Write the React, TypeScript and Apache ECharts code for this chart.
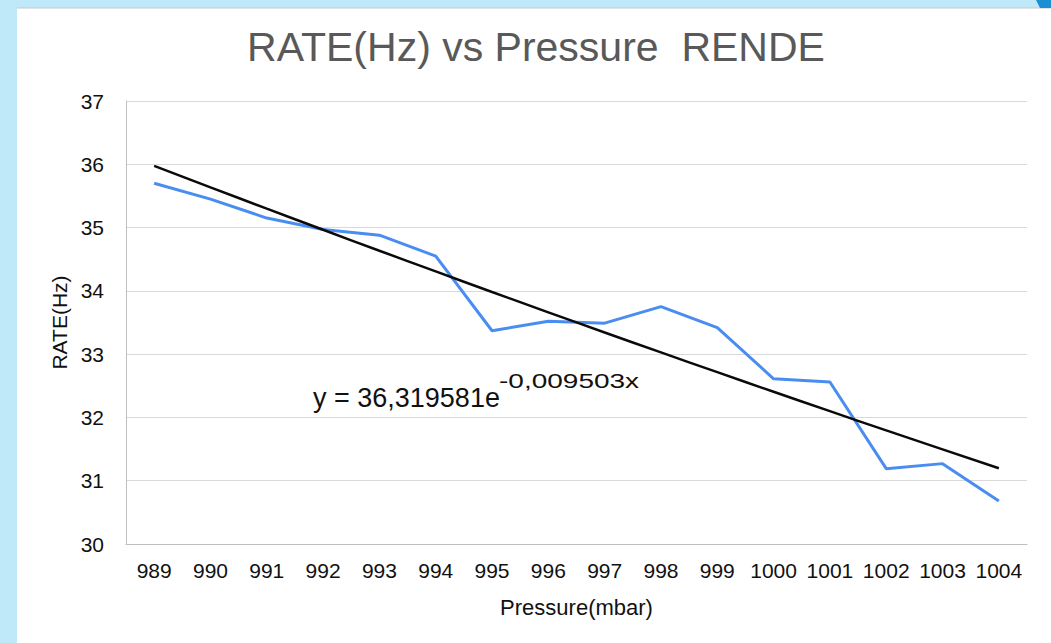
import React, { useEffect, useRef } from "react";
import * as echarts from "echarts";

const pressureLabels = ["989", "990", "991", "992", "993", "994", "995", "996", "997", "998", "999", "1000", "1001", "1002", "1003", "1004"];
const rateValues = [35.70, 35.45, 35.15, 34.97, 34.88, 34.55, 33.37, 33.52, 33.49, 33.75, 33.42, 32.61, 32.56, 31.19, 31.27, 30.68];
// exponential trendline y = 36,319581 e^(-0,009503 x), x = 1..16
const trendValues = [35.976, 35.636, 35.299, 34.965, 34.634, 34.307, 33.982, 33.661, 33.342, 33.027, 32.715, 32.405, 32.099, 31.795, 31.495, 31.197];
const yTicks = { min: 30, max: 37, interval: 1 };
const titleText = "RATE(Hz) vs Pressure  RENDE";
const equationMain = "y = 36,319581e";
const equationExp = "-0,009503x";

const FONT = "'Liberation Sans', Arial, sans-serif";

export default function App() {
  const ref = useRef<HTMLDivElement>(null);
  useEffect(() => {
    document.body.style.margin = "0";
    const chart = echarts.init(ref.current!, null, { renderer: "svg" });
    chart.setOption({
      animation: false,
      backgroundColor: "#bfe8f8",
      textStyle: { fontFamily: FONT },
      graphic: [
        { type: "rect", z: -10, shape: { x: 17, y: 8, width: 1034, height: 635 }, style: { fill: "#ffffff" } },
        { type: "line", z: -9, shape: { x1: 17, y1: 8, x2: 1051, y2: 8 }, style: { stroke: "#c8c8c8", lineWidth: 1 } },
        { type: "polygon", z: -9, shape: { points: [[1036, 0], [1051, 0], [1051, 8], [1040, 8]] }, style: { fill: "#1b8fd3" } },
        {
          type: "text", x: 536, y: 47,
          style: { text: titleText, fontSize: 41, fill: "#595959", fontFamily: FONT, align: "center", verticalAlign: "middle" },
        },
        {
          type: "text", x: 313, y: 398, z: 10,
          style: { text: equationMain, fontSize: 27, fill: "#111111", fontFamily: FONT, align: "left", verticalAlign: "middle" },
        },
        {
          type: "text", x: 499, y: 381, z: 10, scaleX: 1.4,
          style: { text: equationExp, fontSize: 20, fill: "#111111", fontFamily: FONT, align: "left", verticalAlign: "middle" },
        },
      ],
      grid: { left: 126, right: 24, top: 101, bottom: 99, containLabel: false },
      xAxis: {
        type: "category",
        data: pressureLabels,
        boundaryGap: true,
        name: "Pressure(mbar)",
        nameLocation: "middle",
        nameGap: 52,
        nameTextStyle: { fontSize: 22, color: "#111111", fontFamily: FONT },
        axisLine: { show: true, lineStyle: { color: "#bfbfbf", width: 1 } },
        axisTick: { show: false },
        axisLabel: { interval: 0, fontSize: 21, color: "#111111", margin: 16, fontFamily: FONT },
        splitLine: { show: false },
      },
      yAxis: {
        type: "value",
        min: yTicks.min,
        max: yTicks.max,
        interval: yTicks.interval,
        name: "RATE(Hz)",
        nameLocation: "middle",
        nameRotate: 90,
        nameGap: 54,
        nameTextStyle: { fontSize: 21, color: "#111111", fontFamily: FONT },
        axisLine: { show: true, lineStyle: { color: "#bfbfbf", width: 1 } },
        axisTick: { show: false },
        axisLabel: { fontSize: 21, color: "#111111", margin: 22, fontFamily: FONT },
        splitLine: { show: true, lineStyle: { color: "#d9d9d9", width: 1 } },
      },
      series: [
        {
          type: "line",
          name: "RATE",
          data: rateValues,
          symbol: "none",
          lineStyle: { color: "#4a8df0", width: 3 },
          z: 2,
        },
        {
          type: "line",
          name: "Trend",
          data: trendValues,
          symbol: "none",
          smooth: true,
          lineStyle: { color: "#0a0a0a", width: 2.5 },
          z: 3,
        },
      ],
    });
    return () => chart.dispose();
  }, []);
  return <div ref={ref} style={{ width: 1051, height: 643 }} />;
}
